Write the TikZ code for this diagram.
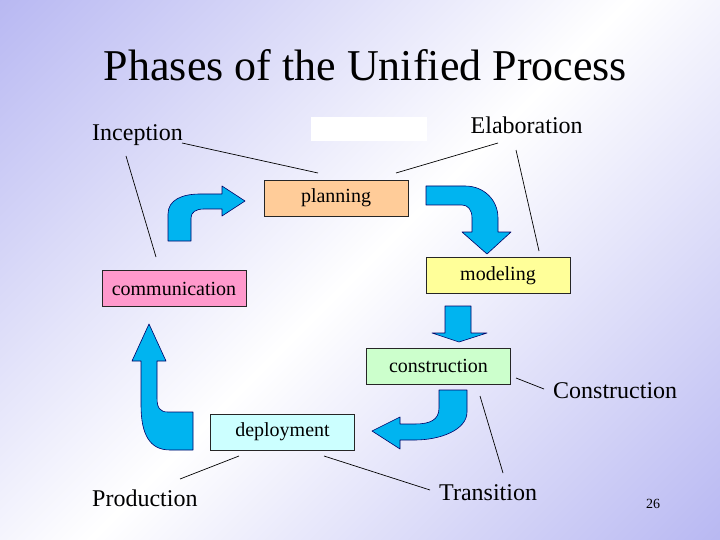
\documentclass[tikz,border=0pt]{standalone}
\usepackage{fontspec}
\setmainfont{Liberation Serif}
\usepackage{tikz}
\usetikzlibrary{positioning}
\definecolor{lav}{RGB}{184,184,242}
\definecolor{peach}{RGB}{255,204,153}
\definecolor{lemon}{RGB}{255,255,153}
\definecolor{rose}{RGB}{255,153,204}
\definecolor{mint}{RGB}{204,255,204}
\definecolor{ice}{RGB}{204,255,255}
\definecolor{arrowblue}{RGB}{0,180,240}
\tikzset{
  phasebox/.style={draw=black!85, line width=0.8pt, minimum width=144pt, minimum height=36pt, inner sep=0pt, font=\fontsize{20}{23}\selectfont},
  phaselabel/.style={font=\fontsize{24}{28}\selectfont, inner sep=0pt, anchor=base west},
  flowarrow/.style={fill=arrowblue, draw=black!60!blue, line width=0.6pt, line join=round},
  callout/.style={line width=0.7pt}
}

\begin{document}
\begin{tikzpicture}[x=1pt,y=-1pt]
\begin{scope}
  \clip (0,0) rectangle (720,540);
  \shade[top color=lav, bottom color=lav, middle color=white, shading angle=45] (-90,-180) rectangle (810,720);
\end{scope}
\useasboundingbox (0,0) rectangle (720,540);
% title and blank patch
\node[font=\fontsize{44}{50}\selectfont, inner sep=0pt, anchor=base] (title) at (365.5,81) {Phases of the Unified Process};
\fill[white] (311,117) rectangle (427,141);
% activities
\foreach \n/\x/\y/\c in {planning/336/198/peach, modeling/498/275.5/lemon, communication/174/288.5/rose, construction/438.5/366/mint, deployment/282.5/432/ice}
  \node[phasebox, fill=\c] (\n) at (\x,\y) {\n};
% phases
\node[phaselabel] (inception) at (92,141) {Inception};
\node[phaselabel] (elaboration) at (470.5,134) {Elaboration};
\node[phaselabel] (constr) at (553,398) {Construction};
\node[phaselabel] (transition) at (439,500.5) {Transition};
\node[phaselabel] (production) at (92,506.5) {Production};
\node[font=\fontsize{14}{16}\selectfont, inner sep=0pt, anchor=base west] (pagenum) at (646,508) {26};
% callout lines
\foreach \ax/\ay/\bx/\by [count=\i] in {182/143/318/173, 126/156/156/257, 396/173/498/143, 516/150/539/251, 516/378/544/389, 480/396/503/473, 324/456/430/490, 180/479/239/456} {
  \coordinate (s\i) at (\ax,\ay);
  \coordinate (e\i) at (\bx,\by);
  \draw[callout] (s\i) -- (e\i);
}
% flow arrows
\filldraw[flowarrow] (168,241) -- (168,214) .. controls (168,200) and (182,194) .. (200,194) -- (222,194) -- (222,186) -- (245,201) -- (222,216) -- (222,209) -- (204,209) .. controls (196,209) and (191,212) .. (191,218) -- (191,241) -- cycle;
\filldraw[flowarrow] (426,186) -- (465,186) .. controls (484,186) and (498,200) .. (498,218) -- (498,232) -- (511,232) -- (487,254) -- (462,232) -- (472,232) -- (472,218) .. controls (472,210) and (468,205) .. (462,205) -- (426,205) -- cycle;
\filldraw[flowarrow] (445,306) -- (471,306) -- (471,333) -- (487,333) -- (459,342) -- (432,333) -- (445,333) -- cycle;
\filldraw[flowarrow] (439,390) -- (467,390) -- (467,412) .. controls (467,430) and (440,440) .. (415,440) -- (400,440) -- (400,449) -- (372,431) -- (400,417) -- (400,424) -- (415,424) .. controls (430,424) and (439,420) .. (439,408) -- cycle;
\filldraw[flowarrow] (193,450) -- (170,450) .. controls (150,450) and (141,435) .. (141,405) -- (141,361) -- (132,361) -- (149,324) -- (166,361) -- (157,361) -- (157,398) .. controls (157,408) and (160,412) .. (168,412) -- (193,412) -- cycle;
\end{tikzpicture}
\end{document}
